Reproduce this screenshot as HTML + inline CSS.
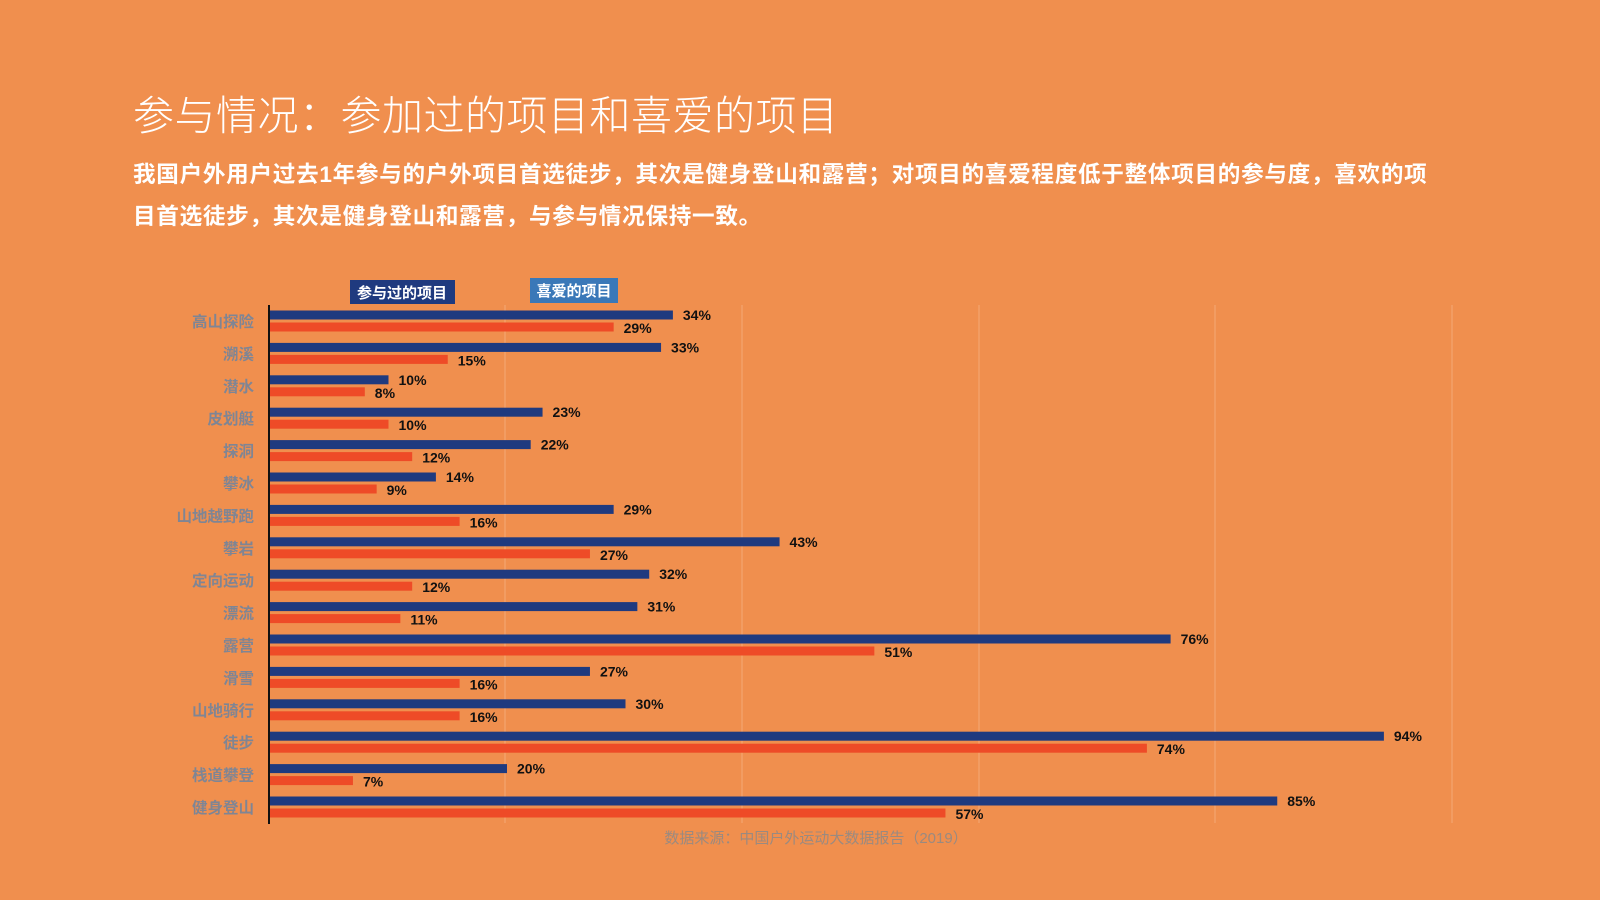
<!DOCTYPE html>
<html><head><meta charset="utf-8"><style>
html,body{margin:0;padding:0;width:1600px;height:900px;overflow:hidden;background:#F08F4E;}
.t{position:absolute;left:133px;top:82px;font:300 41px "Liberation Sans","Noto Sans CJK SC",sans-serif;color:#fff;white-space:nowrap;letter-spacing:0.5px}
.s{position:absolute;left:133px;top:154px;width:1450px;white-space:nowrap;font:bold 22.6px/42px "Liberation Sans","Noto Sans CJK SC",sans-serif;color:#fff;letter-spacing:0.7px}
svg{position:absolute;left:0;top:0}
</style></head><body>
<div class="t">参与情况：参加过的项目和喜爱的项目</div>
<div class="s">我国户外用户过去1年参与的户外项目首选徒步，其次是健身登山和露营；对项目的喜爱程度低于整体项目的参与度，喜欢的项<br>目首选徒步，其次是健身登山和露营，与参与情况保持一致。</div>
<svg width="1600" height="900" viewBox="0 0 1600 900" font-family="Liberation Sans, Noto Sans CJK SC, sans-serif">
<g stroke="#f4a877" stroke-width="1">
<line x1="505" y1="305" x2="505" y2="823"/><line x1="742" y1="305" x2="742" y2="823"/><line x1="979" y1="305" x2="979" y2="823"/><line x1="1215" y1="305" x2="1215" y2="823"/><line x1="1452" y1="305" x2="1452" y2="823"/>
</g>
<rect x="350" y="280" width="105" height="24" fill="#1F3A7F"/>
<text x="402" y="298" fill="#fff" font-size="15" font-weight="bold" text-anchor="middle">参与过的项目</text>
<rect x="530" y="278" width="88" height="25" fill="#3A78B8"/>
<text x="574" y="296" fill="#fff" font-size="15" font-weight="bold" text-anchor="middle">喜爱的项目</text>
<g id="bars"></g>
<line x1="269" y1="305" x2="269" y2="824" stroke="#111" stroke-width="2"/>
<text x="816" y="843" fill="#9a8a80" font-size="15" text-anchor="middle">数据来源：中国户外运动大数据报告（2019）</text>
</svg>
<script>
var d=[["高山探险",34,29],["溯溪",33,15],["潜水",10,8],["皮划艇",23,10],["探洞",22,12],["攀冰",14,9],["山地越野跑",29,16],["攀岩",43,27],["定向运动",32,12],["漂流",31,11],["露营",76,51],["滑雪",27,16],["山地骑行",30,16],["徒步",94,74],["栈道攀登",20,7],["健身登山",85,57]];
var g=document.getElementById('bars'),h='';
d.forEach(function(r,i){var yb=315+32.4*i,yo=327+32.4*i,k=11.85,x0=270;
h+='<text x="254" y="'+(yb+12)+'" fill="#7f8594" font-size="15.5" font-weight="bold" text-anchor="end">'+r[0]+'</text>';
h+='<rect x="'+x0+'" y="'+(yb-4.5)+'" width="'+(r[1]*k)+'" height="9" fill="#1F3A7F"/>';
h+='<rect x="'+x0+'" y="'+(yo-4.5)+'" width="'+(r[2]*k)+'" height="9" fill="#EE4B27"/>';
h+='<text x="'+(x0+r[1]*k+10)+'" y="'+(yb+5)+'" fill="#111" font-size="14" font-weight="bold">'+r[1]+'%</text>';
h+='<text x="'+(x0+r[2]*k+10)+'" y="'+(yo+6)+'" fill="#111" font-size="14" font-weight="bold">'+r[2]+'%</text>';});
g.innerHTML=h;
</script>
</body></html>
